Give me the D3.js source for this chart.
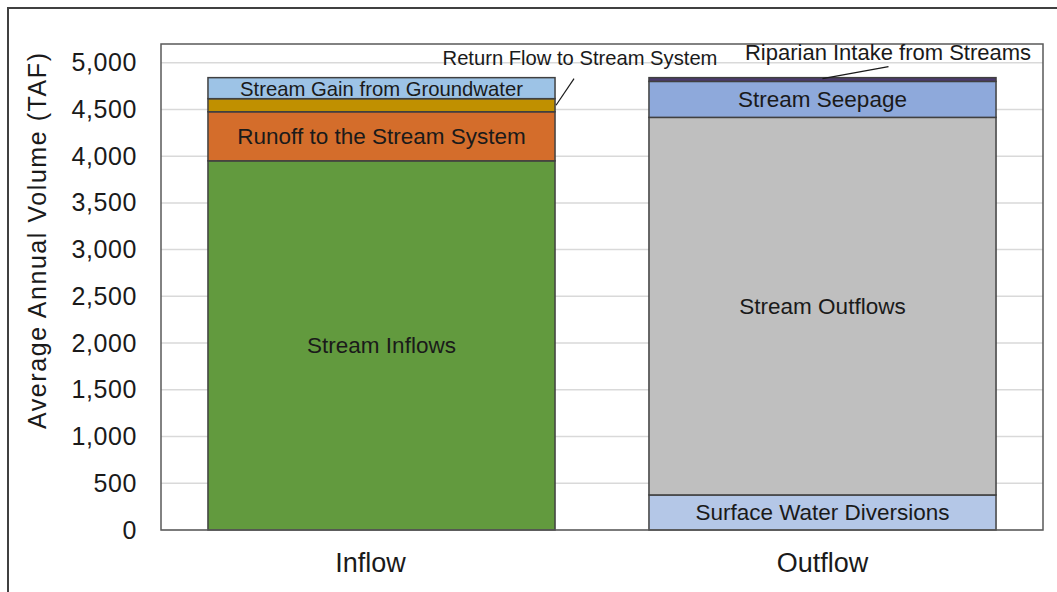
<!DOCTYPE html>
<html>
<head>
<meta charset="utf-8">
<script src="https://cdn.jsdelivr.net/npm/d3@7"></script>
<style>
body { margin: 0; background: #fff; }
text { font-family: "Liberation Sans", Arial, sans-serif; fill: #1a1a1a; }
</style>
</head>
<body>
<script>
// data (TAF)
var categories = ["Inflow", "Outflow"];
var inflowNames = ["Stream Inflows", "Runoff to the Stream System", "Return Flow to Stream System", "Stream Gain from Groundwater"];
var inflowValues = [3950, 525, 140, 225];
var outflowNames = ["Surface Water Diversions", "Stream Outflows", "Stream Seepage", "Riparian Intake from Streams"];
var outflowValues = [375, 4040, 385, 40];
var yTicks = [0, 500, 1000, 1500, 2000, 2500, 3000, 3500, 4000, 4500, 5000];

var colors = {
    "Stream Inflows": "#629a3e",
    "Runoff to the Stream System": "#d46d2b",
    "Return Flow to Stream System": "#c09000",
    "Stream Gain from Groundwater": "#9dc3e6",
    "Surface Water Diversions": "#b4c7e7",
    "Stream Outflows": "#bfbfbf",
    "Stream Seepage": "#8ea9db",
    "Riparian Intake from Streams": "#4b3a6e"
};

var W = 1057, H = 592;
var pLeft = 161, pRight = 1043, pTop = 44, pBottom = 530;

var svg = d3.select("body").append("svg")
    .attr("width", W)
    .attr("height", H);

// outer frame
svg.append("rect")
    .attr("x", 8).attr("y", 8)
    .attr("width", W + 20).attr("height", H + 20)
    .attr("fill", "none")
    .attr("stroke", "#404040")
    .attr("stroke-width", 2);

var x = d3.scaleBand().domain(categories).range([pLeft, pRight]).paddingInner(0.213).paddingOuter(0.1065);
var y = d3.scaleLinear().domain([0, 5200]).range([pBottom, pTop]);

// gridlines
svg.selectAll(".grid")
    .data(yTicks)
    .enter()
    .append("line")
    .attr("x1", pLeft).attr("x2", pRight)
    .attr("y1", function(d) { return y(d); })
    .attr("y2", function(d) { return y(d); })
    .attr("stroke", "#d9d9d9")
    .attr("stroke-width", 1.5);

// y axis labels
var yAxis = d3.axisLeft(y).tickValues(yTicks).tickSize(0).tickPadding(24).tickFormat(d3.format(","));
var ga = svg.append("g").attr("transform", "translate(" + pLeft + ",0)").call(yAxis);
ga.select(".domain").remove();
ga.selectAll("text")
    .style("font-size", "25px")
    .style("letter-spacing", "0.6px")
    .attr("fill", "#1a1a1a")
    .attr("font-family", "Liberation Sans, Arial, sans-serif");

// x axis labels
var gx = svg.append("g").attr("transform", "translate(0," + pBottom + ")")
    .call(d3.axisBottom(x).tickSize(0));
gx.select(".domain").remove();
gx.selectAll("text")
    .attr("y", 42).attr("dy", 0)
    .attr("dx", function(d, i) { return i === 0 ? -11 : 0; })
    .style("font-size", "27px")
    .attr("fill", "#1a1a1a")
    .attr("font-family", "Liberation Sans, Arial, sans-serif");

svg.append("text")
    .attr("transform", "translate(46,241) rotate(-90)")
    .attr("text-anchor", "middle")
    .style("font-size", "25px")
    .attr("textLength", 376)
    .attr("lengthAdjust", "spacing")
    .text("Average Annual Volume (TAF)");

// build stacks
function stack(cat, names, vals) {
    var out = [], acc = 0;
    for (var i = 0; i < names.length; i++) {
        out.push({cat: cat, name: names[i], y0: acc, y1: acc + vals[i]});
        acc += vals[i];
    }
    return out;
}
var segs = stack("Inflow", inflowNames, inflowValues).concat(stack("Outflow", outflowNames, outflowValues));

svg.selectAll(".seg")
    .data(segs)
    .enter()
    .append("rect")
    .attr("x", function(d) { return x(d.cat); })
    .attr("y", function(d) { return y(d.y1); })
    .attr("width", x.bandwidth())
    .attr("height", function(d) { return y(d.y0) - y(d.y1); })
    .attr("fill", function(d) { return colors[d.name]; })
    .attr("stroke", "#404040")
    .attr("stroke-width", 1.5);

// plot area border
svg.append("rect")
    .attr("x", pLeft).attr("y", pTop)
    .attr("width", pRight - pLeft).attr("height", pBottom - pTop)
    .attr("fill", "none")
    .attr("stroke", "#595959")
    .attr("stroke-width", 1.5);

// labels inside the bars
var inside = {
    "Stream Inflows": 22.5,
    "Runoff to the Stream System": 22.5,
    "Stream Gain from Groundwater": 20.3,
    "Surface Water Diversions": 22.5,
    "Stream Outflows": 22.5,
    "Stream Seepage": 22.5
};
svg.selectAll(".lbl")
    .data(segs.filter(function(d) { return inside[d.name]; }))
    .enter()
    .append("text")
    .attr("x", function(d) { return x(d.cat) + x.bandwidth() / 2; })
    .attr("y", function(d) { return (y(d.y0) + y(d.y1)) / 2 + 2; })
    .attr("text-anchor", "middle")
    .attr("dominant-baseline", "middle")
    .style("font-size", function(d) { return inside[d.name] + "px"; })
    .text(function(d) { return d.name; });

// callout labels with leader lines
var rf = segs[2], rip = segs[7];
var rfx = x(rf.cat) + x.bandwidth();
svg.append("line")
    .attr("x1", rfx + 1).attr("y1", y((rf.y0 + rf.y1) / 2))
    .attr("x2", rfx + 19).attr("y2", y(rf.y1) - 20)
    .attr("stroke", "#1a1a1a").attr("stroke-width", 1.2);
svg.append("text")
    .attr("x", 580).attr("y", 65)
    .attr("text-anchor", "middle")
    .style("font-size", "20.2px")
    .text(rf.name);

var ripx = x(rip.cat) + x.bandwidth() / 2;
svg.append("line")
    .attr("x1", ripx).attr("y1", y(rip.y1) + 1)
    .attr("x2", ripx + 66).attr("y2", y(rip.y1) - 11)
    .attr("stroke", "#1a1a1a").attr("stroke-width", 1.2);
svg.append("text")
    .attr("x", 888).attr("y", 60)
    .attr("text-anchor", "middle")
    .style("font-size", "22px")
    .text(rip.name);
</script>
</body>
</html>
